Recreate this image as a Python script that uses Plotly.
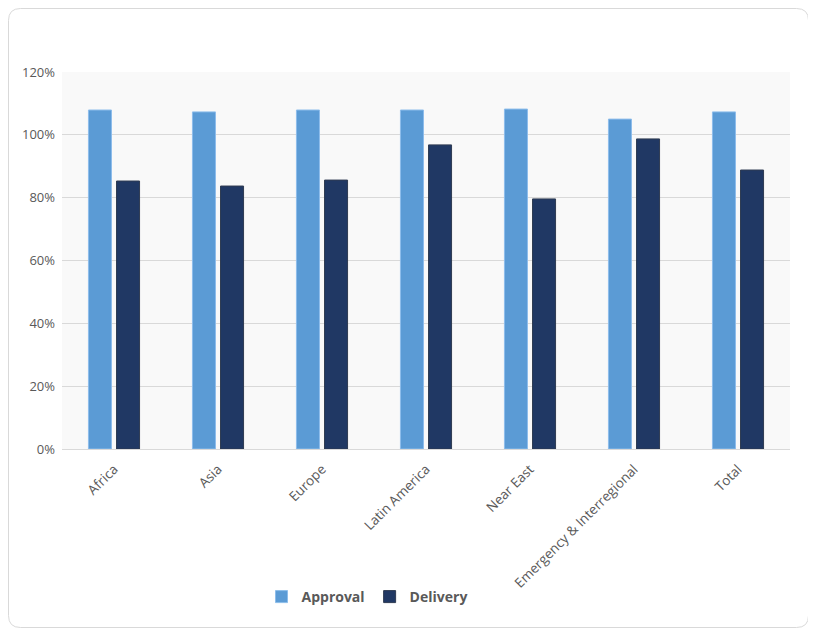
import plotly.graph_objects as go

categories = ["Africa", "Asia", "Europe", "Latin America", "Near East",
              "Emergency & Interregional", "Total"]
approval = [1.079, 1.073, 1.079, 1.079, 1.082, 1.050, 1.073]
delivery = [0.853, 0.837, 0.856, 0.968, 0.796, 0.987, 0.888]

OFF = 8  # page body margin
W, H = 816 - OFF, 637 - OFF
L, R, T, B = 62 - OFF, 26, 72 - OFF, 188
pw, ph = W - L - R, H - T - B

def px(x):
    return (x - OFF - L) / pw

def py(y):
    return (H - B - (y - OFF)) / ph

fig = go.Figure()
fig.add_trace(go.Bar(name="Approval", x=categories, y=approval,
                     marker=dict(color="#5B9BD5", line=dict(color="#8DBDEB", width=1))))
fig.add_trace(go.Bar(name="Delivery", x=categories, y=delivery,
                     marker=dict(color="#203864", line=dict(color="#2F3B52", width=1))))

# rounded card border
x0, x1, y0, y1 = px(8.5), px(808.5), py(627.5), py(8.5)
rx, ry = 12 / pw, 12 / ph
path = (f"M {x0+rx},{y1} L {x1-rx},{y1} Q {x1},{y1} {x1},{y1-ry} "
        f"L {x1},{y0+ry} Q {x1},{y0} {x1-rx},{y0} "
        f"L {x0+rx},{y0} Q {x0},{y0} {x0},{y0+ry} "
        f"L {x0},{y1-ry} Q {x0},{y1} {x0+rx},{y1} Z")
fig.add_shape(type="path", path=path, xref="paper", yref="paper",
              line=dict(color="#D9D9D9", width=1), layer="below")

fig.update_layout(
    width=W, height=H,
    margin=dict(l=L, r=R, t=T, b=B),
    paper_bgcolor="white",
    plot_bgcolor="#F9F9F9",
    barmode="group",
    bargap=0.46,
    bargroupgap=0.18,
    font=dict(family="Open Sans, Liberation Sans, sans-serif", color="#595959", size=12),
    showlegend=True,
    legend=dict(orientation="h", x=px(367), y=py(597), xanchor="center", yanchor="middle",
                font=dict(size=14, color="#595959", family="Open Sans, sans-serif", weight="bold"),
                traceorder="normal"),
    xaxis=dict(tickangle=-45, showline=True, linecolor="#D9D9D9", linewidth=1,
               ticks="", ticklabelstandoff=6, tickfont=dict(size=13.5, color="#595959")),
    yaxis=dict(range=[0, 1.2], tickvals=[0, 0.2, 0.4, 0.6, 0.8, 1.0, 1.2],
               tickformat=".0%", gridcolor="#D9D9D9", gridwidth=1, zeroline=False,
               showline=False, ticks="", ticklabelstandoff=6,
               tickfont=dict(size=13, color="#595959")),
)

fig.write_html("out.html")
